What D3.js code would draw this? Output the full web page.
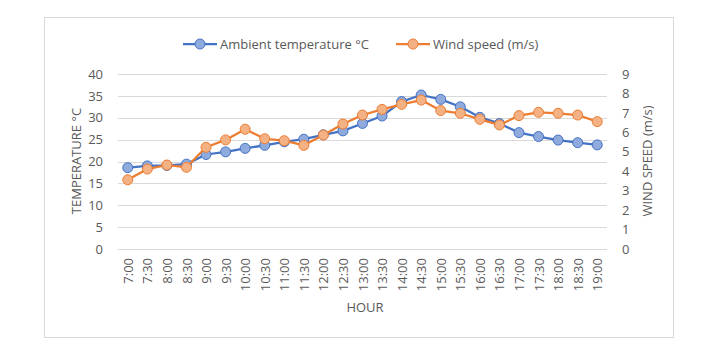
<!DOCTYPE html>
<html>
<head>
<meta charset="utf-8">
<script src="https://cdn.jsdelivr.net/npm/d3@7"></script>
<style>
  body { margin: 0; background: #fff; }
  text { font-family: "Open Sans", sans-serif; fill: #595959; }
</style>
</head>
<body>
<script>
var svgWidth = 709;
var svgHeight = 347;

var hours = ["7:00","7:30","8:00","8:30","9:00","9:30","10:00","10:30","11:00","11:30","12:00","12:30",
  "13:00","13:30","14:00","14:30","15:00","15:30","16:00","16:30","17:00","17:30","18:00","18:30","19:00"];

var temperature = [18.6, 19.0, 19.1, 19.4, 21.6, 22.2, 23.0, 23.7, 24.5, 25.1, 26.1, 27.0,
  28.7, 30.4, 33.7, 35.2, 34.2, 32.5, 30.1, 28.7, 26.6, 25.7, 24.9, 24.3, 23.8];

var windSpeed = [3.56, 4.11, 4.32, 4.20, 5.23, 5.61, 6.16, 5.67, 5.57, 5.33, 5.86, 6.43,
  6.89, 7.18, 7.44, 7.66, 7.12, 6.98, 6.67, 6.38, 6.86, 7.03, 6.98, 6.89, 6.55];

var tempTicks = [0, 5, 10, 15, 20, 25, 30, 35, 40];
var windTicks = [0, 1, 2, 3, 4, 5, 6, 7, 8, 9];

var Plot = { left: 118, right: 607, top: 74, bottom: 249 };

var svg = d3.select("body")
  .append("svg")
  .attr("width", svgWidth)
  .attr("height", svgHeight);

// chart border
svg.append("rect")
  .attr("x", 44.5)
  .attr("y", 17.5)
  .attr("width", 629)
  .attr("height", 320)
  .attr("fill", "white")
  .attr("stroke", "#d9d9d9");

var xScale = d3.scalePoint()
  .domain(hours)
  .range([Plot.left, Plot.right])
  .padding(0.5);

var yTemp = d3.scaleLinear()
  .domain([0, 40])
  .range([Plot.bottom, Plot.top]);

var yWind = d3.scaleLinear()
  .domain([0, 9])
  .range([Plot.bottom, Plot.top]);

// gridlines
svg.append("g")
  .selectAll("line")
  .data(tempTicks)
  .enter()
  .append("line")
  .attr("x1", Plot.left)
  .attr("x2", Plot.right)
  .attr("y1", d => Math.round(yTemp(d)) + 0.5)
  .attr("y2", d => Math.round(yTemp(d)) + 0.5)
  .attr("stroke", "#d9d9d9")
  .attr("stroke-width", 1);

// left axis
var leftAxis = d3.axisLeft(yTemp).tickValues(tempTicks).tickSize(0).tickPadding(0);
var gLeft = svg.append("g")
  .attr("transform", "translate(103,0)")
  .call(leftAxis);
gLeft.select(".domain").remove();
gLeft.selectAll("text").style("font-size", "13px").style("fill", "#595959");

// right axis
var rightAxis = d3.axisRight(yWind).tickValues(windTicks).tickSize(0).tickPadding(0);
var gRight = svg.append("g")
  .attr("transform", "translate(622,0)")
  .call(rightAxis);
gRight.select(".domain").remove();
gRight.selectAll("text").style("font-size", "13px").style("fill", "#595959");

// bottom axis
var bottomAxis = d3.axisBottom(xScale).tickSize(0).tickPadding(0);
var gBottom = svg.append("g")
  .attr("transform", `translate(0, ${Plot.bottom})`)
  .call(bottomAxis);
gBottom.select(".domain").remove();
gBottom.selectAll("text")
  .attr("transform", "rotate(-90)")
  .attr("x", -9)
  .attr("y", 0)
  .attr("dy", "0.35em")
  .style("text-anchor", "end")
  .style("font-size", "13px")
  .style("fill", "#595959");

// axis titles
svg.append("text")
  .attr("x", 365)
  .attr("y", 307)
  .attr("dy", "0.35em")
  .style("text-anchor", "middle")
  .style("font-size", "13px")
  .text("HOUR");

svg.append("text")
  .attr("transform", "rotate(-90)")
  .attr("x", -161)
  .attr("y", 76)
  .attr("dy", "0.35em")
  .style("text-anchor", "middle")
  .style("font-size", "13px")
  .text("TEMPERATURE °C");

svg.append("text")
  .attr("transform", "rotate(-90)")
  .attr("x", -161)
  .attr("y", 647)
  .attr("dy", "0.35em")
  .style("text-anchor", "middle")
  .style("font-size", "13px")
  .text("WIND SPEED (m/s)");

// series
var series = [
  { name: "Ambient temperature °C", values: temperature, scale: yTemp, stroke: "#4472c4", fill: "#8faadc" },
  { name: "Wind speed (m/s)", values: windSpeed, scale: yWind, stroke: "#ed7d31", fill: "#f4b183" }
];

series.forEach(function(s) {
  var line = d3.line()
    .x((d, i) => xScale(hours[i]))
    .y(d => s.scale(d));

  svg.append("path")
    .datum(s.values)
    .attr("d", line)
    .attr("fill", "none")
    .attr("stroke", s.stroke)
    .attr("stroke-width", 2.25)
    .attr("stroke-linejoin", "round");

  svg.append("g")
    .selectAll("circle")
    .data(s.values)
    .enter()
    .append("circle")
    .attr("cx", (d, i) => xScale(hours[i]))
    .attr("cy", d => s.scale(d))
    .attr("r", 5)
    .attr("fill", s.fill)
    .attr("stroke", s.stroke)
    .attr("stroke-width", 1);
});

// legend
var legendX = [183, 396];
series.forEach(function(s, i) {
  var g = svg.append("g").attr("transform", `translate(${legendX[i]}, 44)`);
  g.append("line")
    .attr("x1", 0).attr("x2", 34)
    .attr("y1", 0).attr("y2", 0)
    .attr("stroke", s.stroke)
    .attr("stroke-width", 2.25);
  g.append("circle")
    .attr("cx", 17).attr("cy", 0).attr("r", 5)
    .attr("fill", s.fill)
    .attr("stroke", s.stroke);
  g.append("text")
    .attr("x", 37)
    .attr("y", 0)
    .attr("dy", "0.35em")
    .style("font-size", "13px")
    .text(s.name);
});
</script>
</body>
</html>
